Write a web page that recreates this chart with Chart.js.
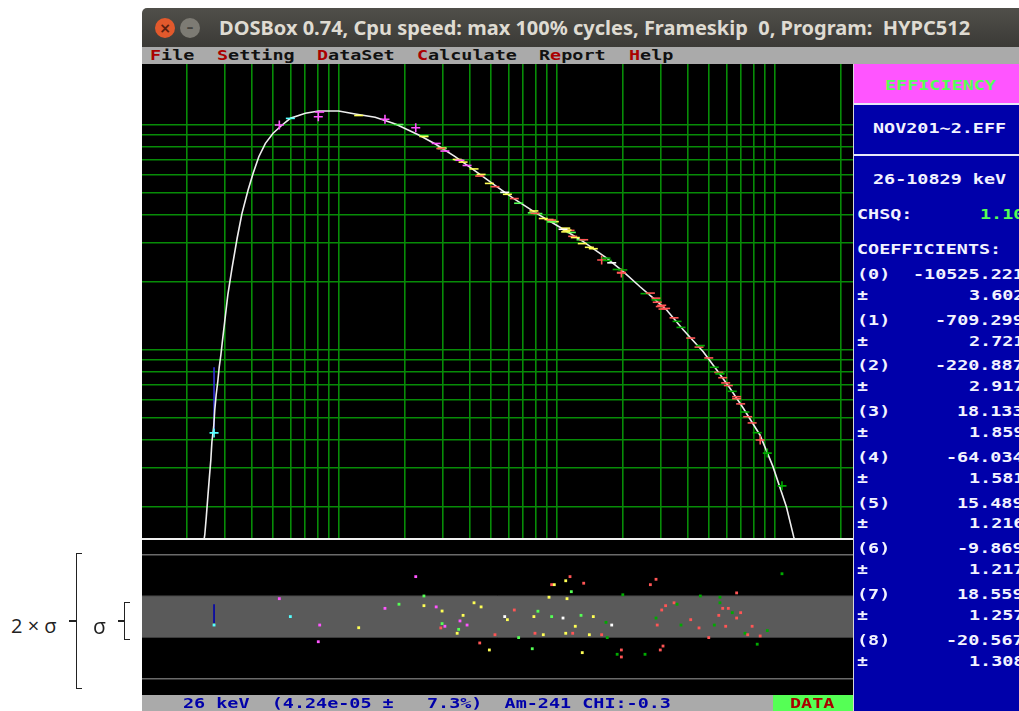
<!DOCTYPE html>
<html>
<head>
<meta charset="utf-8">
<title>HYPC512 efficiency</title>
<script src="https://cdn.jsdelivr.net/npm/chart.js@4/dist/chart.umd.min.js"></script>
<style>
html,body{margin:0;padding:0;width:1019px;height:711px;overflow:hidden;background:#fff;}
.box{position:absolute;}
canvas{position:absolute;display:block;}
.t{position:absolute;white-space:pre;font:bold 14.4px/1 "DejaVu Sans Mono",monospace;transform-origin:left center;transform:translateY(-50%) scaleX(1.28);}
</style>
</head>
<body>
<div class="box" style="left:142px;top:8px;width:877px;height:39px;background:linear-gradient(#504f4a,#3b3a36);border-radius:5px 0 0 0"></div>
<div class="box" style="left:155px;top:18px;width:20px;height:20px;border-radius:50%;background:#e2592c;color:#5a2010;font:bold 14px/20px 'DejaVu Sans';text-align:center">×</div>
<div class="box" style="left:180px;top:18px;width:20px;height:20px;border-radius:50%;background:#7d7b74;color:#45443f;font:bold 14px/18px 'DejaVu Sans';text-align:center">–</div>
<div class="box" id="title" style="left:219px;top:15px;white-space:pre;font:bold 20px/26px 'Noto Sans';color:#dfdbd2">DOSBox 0.74, Cpu speed: max 100% cycles, Frameskip  0, Program:  HYPC512</div>
<div class="box" style="left:142px;top:47px;width:877px;height:17px;background:#aaaaaa"></div>
<div class="box" style="left:142px;top:64px;width:711px;height:632px;background:#000"></div>
<canvas id="main" width="711" height="475" style="left:142px;top:64px"></canvas>
<div class="box" style="left:142px;top:538px;width:711px;height:2px;background:#f0f0f0"></div>
<canvas id="resid" width="711" height="155" style="left:142px;top:540px"></canvas>
<div class="box" style="left:142px;top:695px;width:631px;height:16px;background:#aaaaaa"></div>
<div class="box" style="left:773px;top:695px;width:80px;height:16px;background:#55ff55"></div>
<div class="box" style="left:853px;top:64px;width:166px;height:647px;background:#0000aa;border-left:1.5px solid #d8d8d8;box-sizing:border-box"></div>
<div class="box" style="left:854px;top:64px;width:165px;height:39px;background:#ff55ff"></div>
<div class="box" style="left:854px;top:103px;width:165px;height:1.5px;background:#e8e8f8"></div>
<div class="box" style="left:854px;top:154px;width:165px;height:1.5px;background:#e8e8f8"></div>

<div class="box" style="left:11px;top:611px;white-space:pre;font:20px/30px 'Open Sans';color:#222">2 × σ</div>
<div class="box" style="left:93px;top:611px;white-space:pre;font:21px/30px 'Open Sans';color:#222">σ</div>
<div class="box" style="left:76px;top:553px;width:5px;height:134px;border:1.5px solid #222;border-right:0"></div>
<div class="box" style="left:69px;top:620px;width:7px;height:1.5px;background:#222"></div>
<div class="box" style="left:124px;top:602px;width:5px;height:36px;border:1.5px solid #222;border-right:0"></div>
<div class="box" style="left:118px;top:620px;width:6px;height:1.5px;background:#222"></div>
<div id="texts"></div>

<script>
// Energies of the calibration points, keV
const energies = [26.8,53.4,60,81.8,80.6,123.5,163,189,225.6,246,246,280,298,298,294,307,355,349.5,360,372,388,417.6,450,443.5,491,521,577.5,594,639,669,772.5,786,820,795,868,922,948,975,948,1100,1151,1167,1115,1069,1100,1184,1217,1293,1330,1310,1412,1472,1608,1683,1706,1788,2010,1980,1980,1894,2542,2690,2855,2855,2892,3032,3160,2987,3074,3454,3565,3717,4119,4497,4560,4984,5285,5540,5610,5610,5775,5960,6127,6390,6690,6690,6980,7310,7520,7880,8316,8580,9250,10800];
// Measured efficiency of those points, units of 1e-3
const efficiencies = [.0428,1.00,1.07,1.142,1.088,1.102,1.06,1.005,.972,.893,.889,.828,.79,.785,.786,.766,.699,.703,.697,.684,.661,.638,.603,.593,.55,.532,.502,.492,.471,.449,.407,.415,.404,.405,.384,.38,.378,.372,.371,.348,.34,.333,.341,.344,.335,.32,.316,.309,.309,.297,.286,.282,.251,.256,.25,.244,.227,.221,.22,.228,.178,.179,.17,.167,.163,.158,.153,.156,.152,.139,.134,.126,.113,.103,.1046,.0922,.0838,.0795,.0787,.0783,.0753,.0714,.0695,.0655,.0607,.062,.0576,.053,.0505,.0474,.0429,.0398,.0348,.0249];
// Residual of those points, in sigma
const chiValues = [-.41,.87,0,-.41,-1.22,-.54,.4,.6,1.94,1,.53,.47,.27,-.34,-.55,-.47,-.62,-.81,-.21,.06,-.41,.67,.47,-1.28,-1.62,-.88,0,-.15,.32,-1.02,-1.56,0,.26,-.81,-.88,.94,1.55,1.55,0,1.74,1.94,1.21,.87,-.07,-.81,-.81,-.47,.06,1.62,-1.75,-.88,0,-.88,-.28,-1.02,-.41,1.06,-1.62,-1.96,-1.83,-1.83,1.55,1.81,-.07,-.41,.32,.53,-1.62,-1.43,.67,.6,-.41,-.15,-.55,1,-1.02,-.41,.06,.94,.67,.4,-.47,.4,.19,-.07,1.15,.19,-.81,-.88,-.47,-1.34,-.94,-.68,2.08];
// Source group of each point
const sources = ['c','m','c','m','m','y','m','l','m','l','y','m','y','l','r','m','l','y','m','y','m','y','y','r','y','r','w','y','r','l','l','y','l','r','y','y','r','y','l','y','r','l','y','w','y','r','y','l','r','y','y','y','r','g','g','w','g','r','r','g','g','r','r','g','r','r','r','r','r','r','g','g','r','r','g','r','g','r','g','g','r','r','r','g','r','r','r','g','r','r','g','r','g','g'];
// Points whose error bar is long enough to show as a full cross
const wideErrorPoints = [0,1,4,6,8,52,58,91,92,93];
// Fitted curve
const curveEnergy = [24.1,24.3,24.7,25.1,25.5,25.9,26.2,26.7,27,27.4,27.9,28.3,28.8,29.2,31,32.4,34.2,36,38.4,40.5,43,46.1,50,55,60,70.3,81,100,119,147,182,233,277.5,342,438,531,633,809,1035,1324,1696,2021,2412,2774,3195,3814,4702,5425,6237,7180,8560,9822,11315,12220,12350];
const curveEfficiency = [.0143,.0151,.01816,.0223,.027,.0324,.0391,.0456,.0541,.0631,.0728,.0838,.095,.1071,.1756,.2314,.3138,.405,.514,.61,.723,.829,.919,1,1.071,1.127,1.154,1.154,1.119,1.082,1.01,.903,.823,.723,.61,.532,.472,.405,.351,.303,.256,.223,.191,.17,.1506,.1227,.0983,.0815,.0676,.0551,.0419,.0303,.0201,.0148,.0143];
// Error bar of the selected 26 keV point
const selectedEnergy = 26.8;
const selectedEffRange = [.0428,.0838];
const selectedChiRange = [-.31,.6];
// Axis lines
const xGrid = [20,30,40,50,60,70,80,90,100,200,300,400,500,600,700,800,900,1000,2000,3000,4000,5000,6000,7000,8000,9000,10000,20000];
const yGrid = [1,.9,.8,.7,.6,.5,.4,.3,.2,.1,.09,.08,.07,.06,.05,.04,.03,.02];
const chiGrid = [-3,3];
const chiBand = [-1,1];
// Axis ranges
const xRange = [12.52,22870];
const yRange = [.01445,1.867];
const chiRange = [-3.806,3.718];
// Side panel text
const coefficients = ['-10525.221','-709.299','-220.887','18.133','-64.034','15.489','-9.869','18.559','-20.567'];
const coefficientErrors = ['3.602','2.721','2.917','1.859','1.581','1.216','1.217','1.257','1.308'];

const palette = {c:'#55ffff',m:'#ff55ff',y:'#ffff55',l:'#55ff55',r:'#ff5555',g:'#00aa00',w:'#ffffff'};
const ptColors = sources.map(s=>palette[s]);

function xScale(){
  return {type:'logarithmic',min:xRange[0],max:xRange[1],offset:false,
    border:{display:false},ticks:{display:false,autoSkip:false},
    grid:{color:'#078c07',lineWidth:1.6,drawTicks:false},
    afterBuildTicks:s=>{s.ticks=xGrid.map(v=>({value:v}));}};
}
const base = {responsive:false,animation:false,events:[],
  layout:{padding:0,autoPadding:false},plugins:{legend:{display:false},tooltip:{enabled:false}}};

new Chart(document.getElementById('main'),{
  type:'scatter',
  data:{datasets:[
    {data:efficiencies.map((v,i)=>({x:energies[i],y:v})),
     pointStyle:energies.map((e,i)=>wideErrorPoints.includes(i)?'cross':'line'),
     pointRadius:4.5,
     borderColor:ptColors,backgroundColor:ptColors,pointBorderWidth:1.6,showLine:false,order:1},
    {data:curveEnergy.map((e,i)=>({x:e,y:curveEfficiency[i]})),showLine:true,tension:0,
     borderColor:'#eeeeee',borderWidth:1.6,pointRadius:0,order:2},
    {data:selectedEffRange.map(v=>({x:selectedEnergy,y:v})),showLine:true,
     borderColor:'#3030d8',borderWidth:1.6,pointRadius:0,order:3}
  ]},
  options:{...base,scales:{
    x:xScale(),
    y:{type:'logarithmic',min:yRange[0],max:yRange[1],
       border:{display:false},ticks:{display:false,autoSkip:false},
       grid:{color:'#078c07',lineWidth:1.6,drawTicks:false},
       afterBuildTicks:s=>{s.ticks=yGrid.map(v=>({value:v}));}}
  }}
});

new Chart(document.getElementById('resid'),{
  type:'scatter',
  data:{datasets:[
    {data:chiValues.map((v,i)=>({x:energies[i],y:v})),pointStyle:'rect',pointRadius:2,
     backgroundColor:ptColors,borderColor:ptColors,pointBorderWidth:0,showLine:false,order:1},
    {data:selectedChiRange.map(v=>({x:selectedEnergy,y:v})),showLine:true,
     borderColor:'#0000aa',borderWidth:1.6,pointRadius:0,order:2},
    {data:xRange.map(x=>({x,y:chiBand[1]})),showLine:true,pointRadius:0,borderWidth:1,borderColor:'#4a4a4a',
     backgroundColor:'#5a5a5a',fill:'+1',order:3},
    {data:xRange.map(x=>({x,y:chiBand[0]})),showLine:true,pointRadius:0,borderWidth:1,borderColor:'#4a4a4a',order:4}
  ]},
  options:{...base,scales:{
    x:{...xScale(),grid:{display:false,drawTicks:false}},
    y:{type:'linear',min:chiRange[0],max:chiRange[1],
       border:{display:false},ticks:{display:false,autoSkip:false},
       grid:{color:'#6a6a6a',lineWidth:1.5,drawTicks:false},
       afterBuildTicks:s=>{s.ticks=chiGrid.map(v=>({value:v}));}}
  }}
});

const host = document.getElementById('texts');
const ADV = 11.1;
function put(x,y,runs,color){
  const d=document.createElement('div');d.className='t';
  d.style.left=x+'px';d.style.top=y+'px';d.style.color=color||'#f2f2ff';
  (Array.isArray(runs)?runs:[[runs,color]]).forEach(r=>{
    const s=document.createElement('span');s.textContent=r[0];if(r[1])s.style.color=r[1];d.appendChild(s);
  });
  host.appendChild(d);
}
const RED='#aa0000',BK='#111';
[[150,'F','ile'],[217,'S','etting'],[317,'D','ataSet'],[417,'C','alculate'],[629,'H','elp']]
  .forEach(m=>put(m[0],54.5,[[m[1],RED],[m[2],BK]]));
put(539,54.5,[['R',BK],['e',RED],['port',BK]]);
put(885,85,'EFFICIENCY','#55ff55');
put(873,128,'NOV201~2.EFF');
put(873,179,'26-10829 keV');
put(857,214,'CHSQ:');
put(980,214,'1.10','#55ff55');
put(857,249,'COEFFICIENTS:');
const rowsY=[[274,295],[320,341],[365,386],[411,432],[457,478],[503,523],[548,569],[594,615],[640,661]];
const RIGHT=1024;
coefficients.forEach((c,i)=>{
  put(857,rowsY[i][0],'('+i+')');
  put(RIGHT-c.length*ADV,rowsY[i][0],c);
  put(857,rowsY[i][1],'±');
  const e=coefficientErrors[i];
  put(RIGHT-e.length*ADV,rowsY[i][1],e);
});
put(183,702.5,'26 keV  (4.24e-05 ±   7.3%)  Am-241 CHI:-0.3','#0000aa');
put(790,702.5,'DATA','#aa0000');
</script>
</body>
</html>
